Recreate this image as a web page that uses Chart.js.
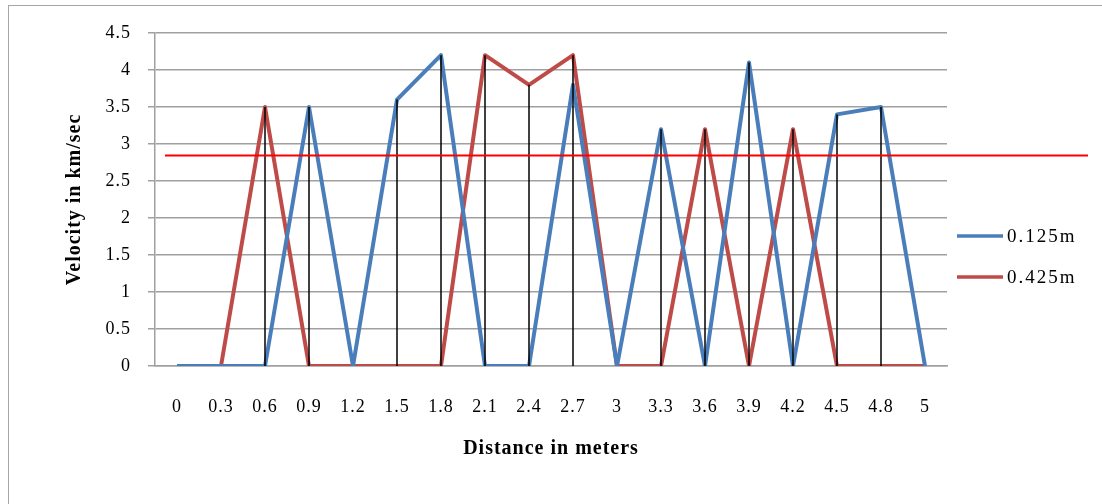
<!DOCTYPE html>
<html>
<head>
<meta charset="utf-8">
<script src="https://cdn.jsdelivr.net/npm/chart.js@4/dist/chart.umd.min.js"></script>
<style>
    html, body { margin: 0; padding: 0; background: #fff; overflow: hidden; }
    #wrap { position: relative; width: 1102px; height: 504px; }
    #frame { position: absolute; left: 8px; top: 5px; width: 1200px; height: 600px; border: 1.5px solid #a6a6a6; }
    canvas { position: absolute; left: 0; top: 0; }
</style>
</head>
<body>
<div id="wrap">
    <div id="frame"></div>
    <canvas id="velChart" width="1102" height="504"></canvas>
</div>
<script>
// distance labels along the x axis
const distances = ["0", "0.3", "0.6", "0.9", "1.2", "1.5", "1.8", "2.1", "2.4", "2.7", "3", "3.3", "3.6", "3.9", "4.2", "4.5", "4.8", "5"];

// velocities (km/sec)
const vel0125 = [0, 0, 0, 3.5, 0, 3.6, 4.2, 0, 0, 3.8, 0, 3.2, 0, 4.1, 0, 3.4, 3.5, 0];
const vel0425 = [0, 0, 3.5, 0, 0, 0, 0, 4.2, 3.8, 4.2, 0, 0, 3.2, 0, 3.2, 0, 0, 0];

const seriesNames = ["0.125m", "0.425m"];
const seriesColors = ["#4a7ebb", "#be4b48"];

// red reference line
const thresholdValue = 2.85;

const serif = "'Liberation Serif', 'DejaVu Serif', serif";

// slightly spaced text like the original render
const spacing = {
    id: "spacing",
    beforeDraw(chart) { chart.ctx.letterSpacing = "1px"; }
};

// black drop lines from the highest point down to the axis
const dropLines = {
    id: "dropLines",
    afterDatasetsDraw(chart) {
        const ctx = chart.ctx;
        const x = chart.scales.x, y = chart.scales.y;
        ctx.save();
        ctx.strokeStyle = "#000";
        ctx.lineWidth = 1.5;
        distances.forEach((d, i) => {
            const top = Math.max(vel0125[i], vel0425[i]);
            if (top <= 0) return;
            const px = x.getPixelForValue(i);
            ctx.beginPath();
            ctx.moveTo(px, y.getPixelForValue(top));
            ctx.lineTo(px, y.getPixelForValue(0));
            ctx.stroke();
        });
        ctx.restore();
    }
};

// legend on the right + red threshold line
const extras = {
    id: "extras",
    afterDraw(chart) {
        const ctx = chart.ctx;
        const area = chart.chartArea;
        const y = chart.scales.y;
        ctx.save();

        const ty = Math.round(y.getPixelForValue(thresholdValue)) + 0.5;
        ctx.strokeStyle = "#ff0000";
        ctx.lineWidth = 2;
        ctx.beginPath();
        ctx.moveTo(area.left + 10, ty);
        ctx.lineTo(chart.width - 14, ty);
        ctx.stroke();

        ctx.font = "19px " + serif;
        ctx.letterSpacing = "2px";
        ctx.textBaseline = "middle";
        ctx.fillStyle = "#000";
        const lx = area.right + 10;
        seriesNames.forEach((name, i) => {
            const ly = 236 + i * 41;
            ctx.strokeStyle = seriesColors[i];
            ctx.lineWidth = 3.5;
            ctx.beginPath();
            ctx.moveTo(lx, ly);
            ctx.lineTo(lx + 46, ly);
            ctx.stroke();
            ctx.fillText(name, lx + 50, ly + 1);
        });
        ctx.restore();
    }
};

new Chart(document.getElementById("velChart"), {
    type: "line",
    data: {
        labels: distances,
        datasets: [
            {
                label: seriesNames[0],
                data: vel0125,
                borderColor: seriesColors[0],
                borderWidth: 4,
                borderJoinStyle: "round",
                pointRadius: 0,
                tension: 0
            },
            {
                label: seriesNames[1],
                data: vel0425,
                borderColor: seriesColors[1],
                borderWidth: 4,
                borderJoinStyle: "round",
                pointRadius: 0,
                tension: 0
            }
        ]
    },
    options: {
        responsive: false,
        animation: false,
        layout: {
            padding: { left: 63, top: 33, right: 155, bottom: 43 }
        },
        plugins: {
            legend: { display: false },
            tooltip: { enabled: false }
        },
        scales: {
            x: {
                offset: true,
                grid: { display: false, drawTicks: false },
                border: { display: true, color: "#a0a0a0", width: 1.5 },
                ticks: {
                    color: "#000",
                    font: { family: serif, size: 18 },
                    padding: 30,
                    maxRotation: 0,
                    autoSkip: false
                },
                title: {
                    display: true,
                    text: "Distance in meters",
                    color: "#000",
                    font: { family: serif, size: 20, weight: "bold" },
                    padding: 0
                },
                afterFit(scale) { scale.height = 95; }
            },
            y: {
                min: 0,
                max: 4.5,
                ticks: {
                    stepSize: 0.5,
                    color: "#000",
                    font: { family: serif, size: 18 },
                    padding: 17,
                    callback: (v) => String(v)
                },
                grid: { color: "#a0a0a0", lineWidth: 1.5, tickLength: 7 },
                border: { display: true, color: "#a0a0a0", width: 1.5 },
                title: {
                    display: true,
                    text: "Velocity in km/sec",
                    color: "#000",
                    font: { family: serif, size: 20, weight: "bold" },
                    padding: 0
                },
                afterFit(scale) { scale.width = 92; }
            }
        }
    },
    plugins: [spacing, dropLines, extras]
});
</script>
</body>
</html>
